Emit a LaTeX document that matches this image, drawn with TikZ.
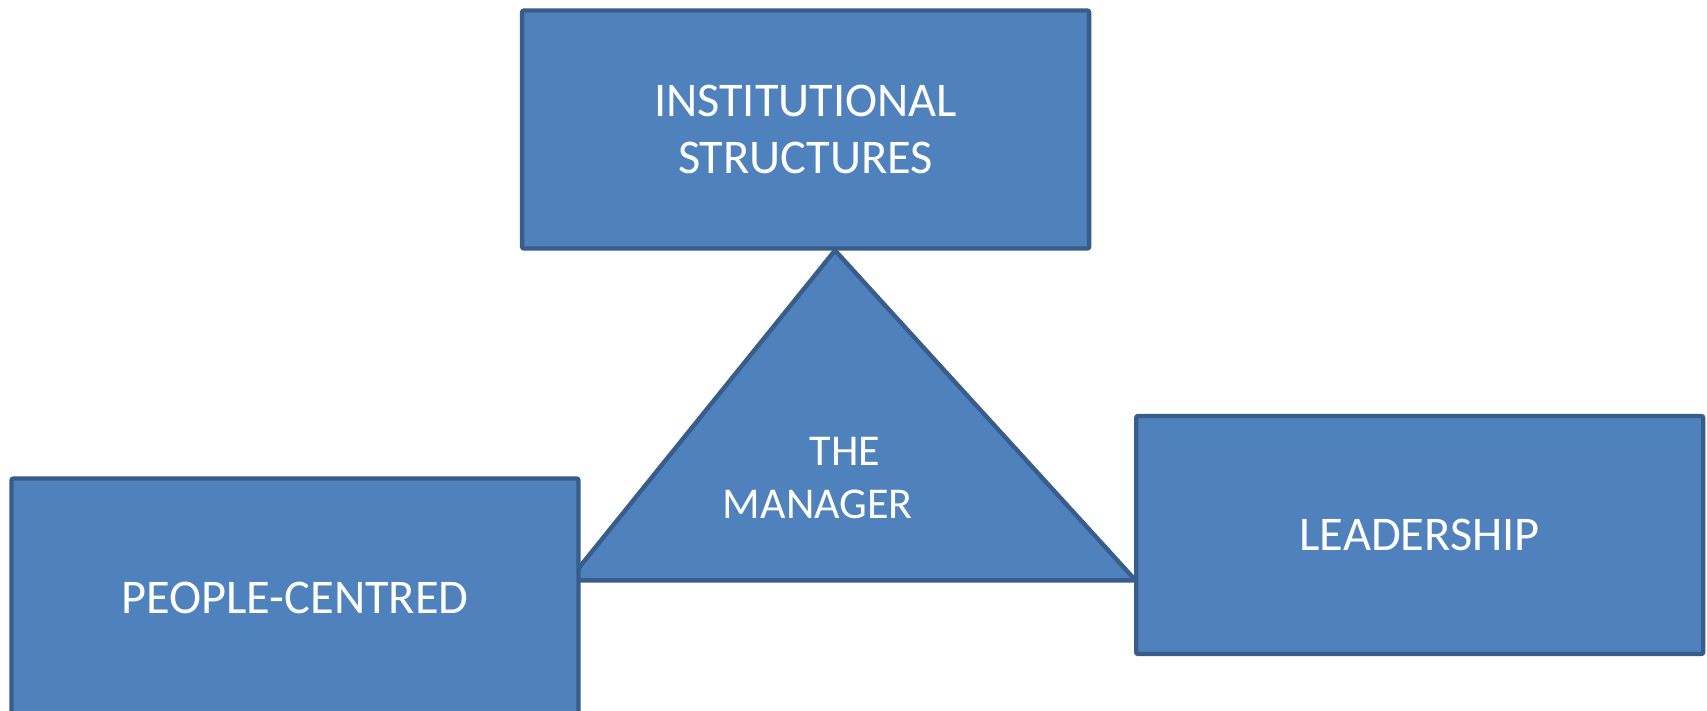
\documentclass[tikz,border=0pt]{standalone}
\usepackage{fontspec}
\setmainfont{Carlito}
\definecolor{boxfill}{HTML}{4F81BD}
\definecolor{boxline}{HTML}{385D8A}
\begin{document}
\begin{tikzpicture}[x=0.5pt,y=-0.5pt,
  blockbox/.style={draw=boxline, fill=boxfill, line width=2.2pt, rounded corners=1pt,
    minimum width=283.5pt, minimum height=119pt, inner sep=0pt, text=white,
    font=\fontsize{24.2}{28.3}\selectfont, align=center},
  tri/.style={draw=boxline, fill=boxfill, line width=2.2pt, line join=miter}
]
\useasboundingbox (0,0) rectangle (1707,711);
\clip (0,0) rectangle (1707,711);
\fill[white] (0,0) rectangle (1707,711);
% triangle
\coordinate (apex) at (835,250.4);
\coordinate (bl) at (568.8,580.3);
\coordinate (br) at (1135.5,580.3);
\draw[tri] (apex) -- (bl) -- (br) -- cycle;
\node[text=white, font=\fontsize{22}{26.5}\selectfont, align=left, anchor=north west, inner sep=0pt]
  (mgr) at (722.5,437) {\hspace*{43.5pt}THE\\MANAGER};
% boxes
\node[blockbox] (inst) at (805.6,129.5) {INSTITUTIONAL\\STRUCTURES};
\node[blockbox] (people) at (295,597.5) {PEOPLE-CENTRED};
\node[blockbox] (lead) at (1419.7,535) {LEADERSHIP};
\end{tikzpicture}
\end{document}
